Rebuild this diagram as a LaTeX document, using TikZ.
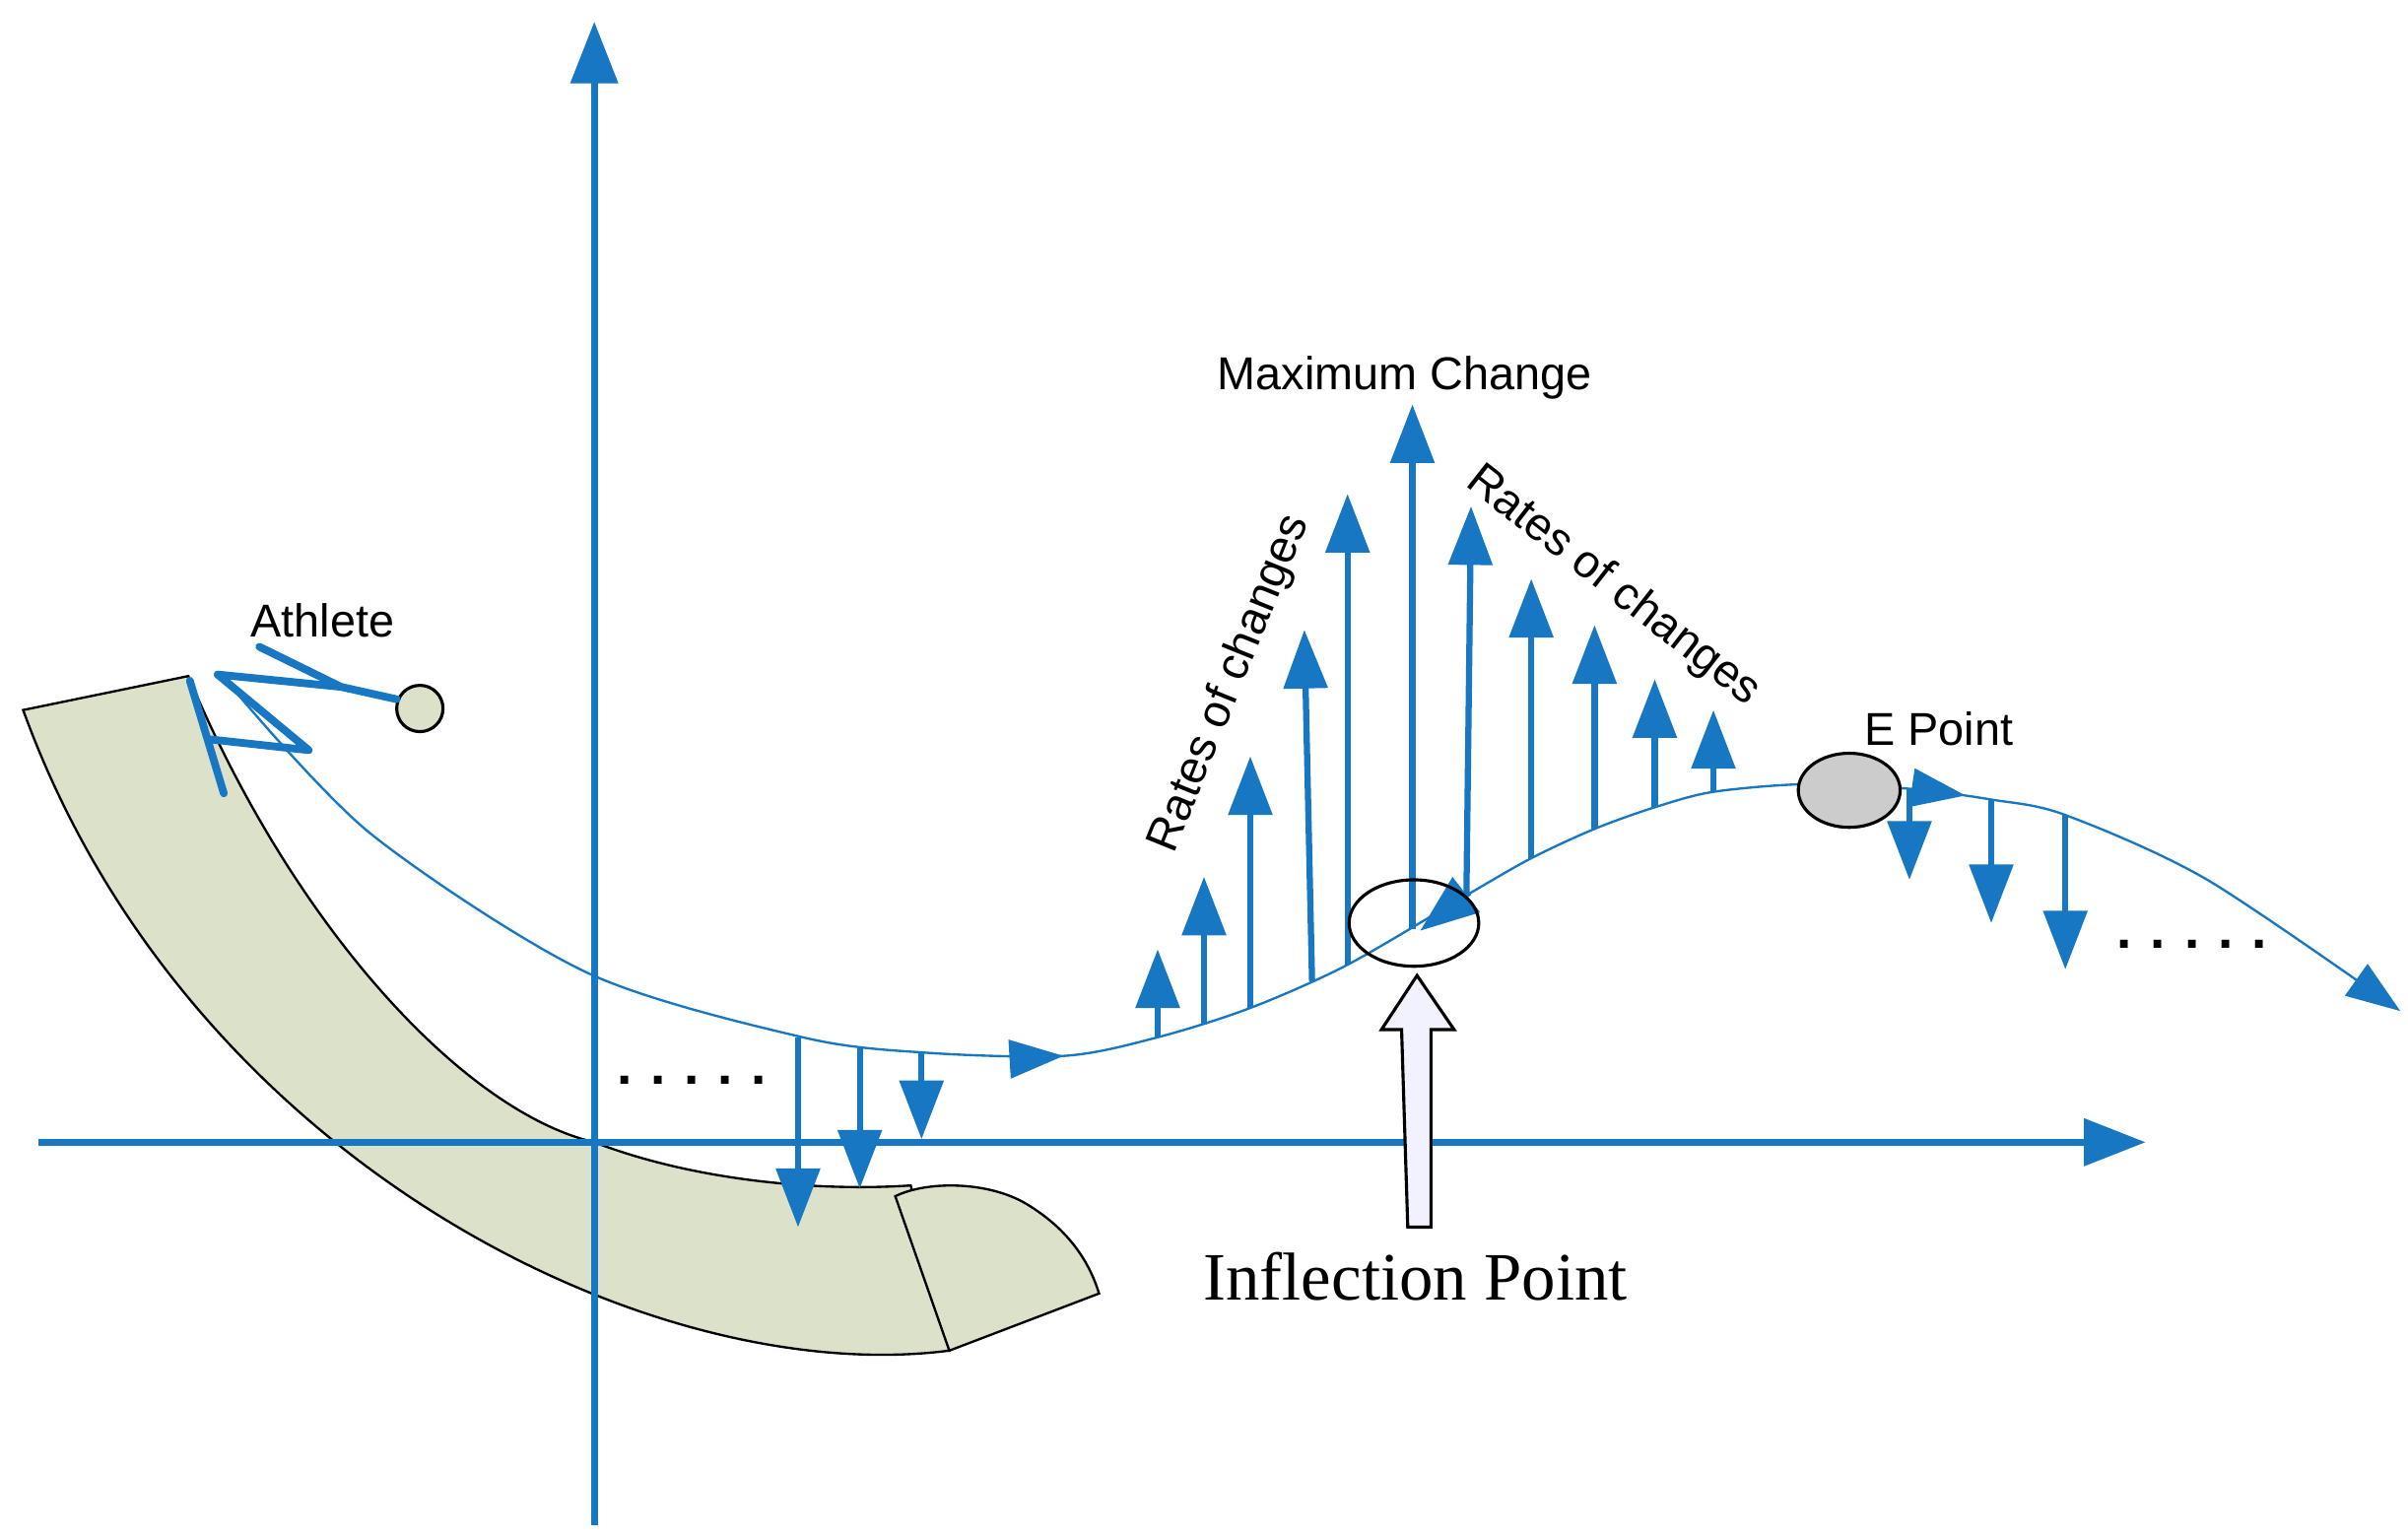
\documentclass[tikz,border=0pt]{standalone}
\usepackage{fontspec}
\setmainfont{Liberation Sans}
\newfontfamily\serifx{Liberation Serif}
\usetikzlibrary{arrows.meta,decorations.markings}
\definecolor{ab}{HTML}{1777C2}
\definecolor{trk}{HTML}{DCE2C9}
\begin{document}
\begin{tikzpicture}[x=0.1mm,y=-0.1mm,
  ax/.style={ab,line width=0.45mm,-{Triangle[width=3mm,length=4mm]}},
  vec/.style={ab,line width=0.4mm,-{Triangle[width=2.8mm,length=3.8mm]}},
  lab/.style={font=\fontsize{8.5pt}{10pt}\selectfont,inner sep=0},
  dots/.style={font=\bfseries\fontsize{10pt}{10pt}\selectfont,inner sep=0}]
\useasboundingbox (0,0) rectangle (1560,996);
% track
\draw[fill=trk,line width=0.15mm] (15,460) -- (122,438) .. controls (190,600) and (300,720) .. (385,740) .. controls (450,765) and (530,772) .. (590,768) -- (615,875) .. controls (420,900) and (120,750) .. (15,460) -- cycle;
\draw[fill=trk,line width=0.15mm] (580,775) .. controls (600,765) and (640,765) .. (665,780) .. controls (690,795) and (705,815) .. (712,838) -- (615,875) -- cycle;
% axes
\coordinate (xs) at (25,740); \coordinate (xe) at (1390,740);
\coordinate (ys) at (385,988); \coordinate (ye) at (385,14);
\draw[ax] (xs) -- (xe);
\draw[ax] (ys) -- (ye);
% trajectory
\draw[ab,line width=0.15mm,-{Triangle[width=2.5mm,length=3.5mm]},
  decoration={markings,mark=at position 0.395 with {\arrow{Triangle[width=2.5mm,length=3.5mm]}},
  mark=at position 0.795 with {\arrow{Triangle[width=2.5mm,length=3.5mm]}}},postaction={decorate}]
  plot[smooth,tension=0.5] coordinates {(150,445) (240,540) (380,630) (520,672) (600,682) (690,684) (750,672) (810,653) (873,625) (950,580) (992,556) (1033,537) (1072,523) (1110,513) (1170,508) (1237,511) (1290,518) (1338,528) (1430,570) (1555,655)};
% up vectors
\foreach \x/\b/\t in {750/672/615, 780/664/568, 810/653/490, 873/625/320, 915/602/262, 992/556/375, 1033/537/405, 1072/523/440, 1110/513/460}
  {\draw[vec] (\x,\b) -- (\x,\t);}
\draw[vec] (850,636) -- (845,408);
\draw[vec] (950,580) -- (953,328);
% down vectors
\foreach \x/\b/\t in {517/672/795, 557/678/770, 597/682/738, 1237/511/570, 1290/518/598, 1338/528/628}
  {\draw[vec] (\x,\b) -- (\x,\t);}
\draw[vec] (952,578) -- (920,603);
% ellipses
\draw[line width=0.2mm] (916,598) ellipse [x radius=42,y radius=28];
\draw[line width=0.2mm,fill=black!20] (1198,512) ellipse [x radius=33,y radius=24];
% inflection block arrow
\draw[line width=0.2mm,fill=blue!5!white] (912,795) -- (908,667) -- (895,667) -- (918,632) -- (942,667) -- (927,667) -- (927,795) -- cycle;
% athlete
\draw[line width=0.2mm,fill=trk] (272,459) circle (15);
\draw[ab,line width=0.5mm,line cap=round,line join=round] (168,419) -- (221,445) -- (257,453);
\draw[ab,line width=0.5mm,line cap=round,line join=round] (221,445) -- (141,437) -- (200,486) -- (136,479);
\draw[ab,line width=0.5mm,line cap=round] (123,441) -- (145,514);
% texts
\node[lab] (ath) at (209,402) {Athlete};
\node[lab] (max) at (910,245) {Maximum Change};
\node[lab,rotate=68] (r1) at (797,443) {Rates of changes};
\node[lab,rotate=-38] (r2) at (1045,380) {Rates of changes};
\node[lab] (ep) at (1256,472) {E Point};
\node[inner sep=0,font=\serifx\fontsize{12.5pt}{14pt}\selectfont] (ip) at (917,827) {Inflection Point};
\node[dots] (d1) at (448,700) {.\hspace{1.2mm}.\hspace{1.2mm}.\hspace{1.2mm}.\hspace{1.2mm}.};
\node[dots] (d2) at (1420,612) {.\hspace{1.2mm}.\hspace{1.2mm}.\hspace{1.2mm}.\hspace{1.2mm}.};
\end{tikzpicture}
\end{document}
